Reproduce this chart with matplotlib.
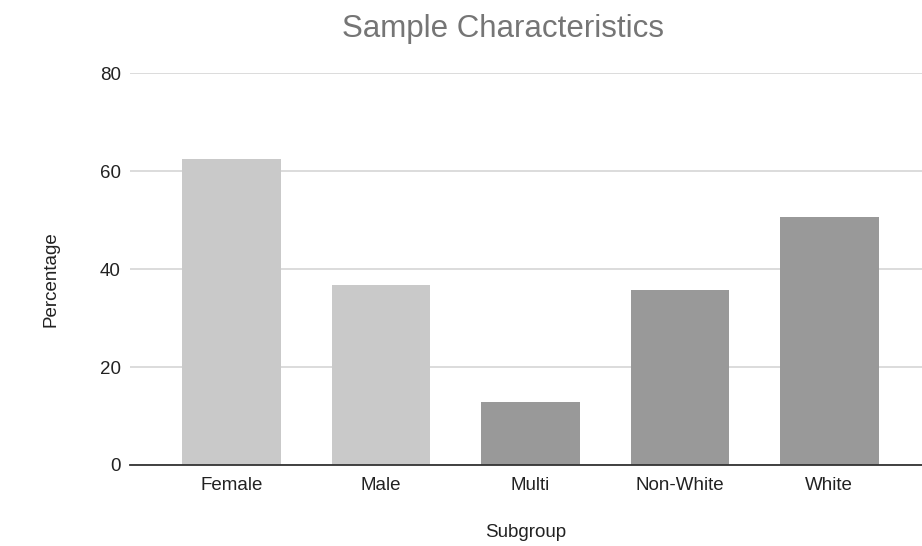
import matplotlib.pyplot as plt

plt.rcParams['font.family'] = ['Liberation Sans', 'DejaVu Sans']

# Percentages by subgroup
subgroups = ['Female', 'Male', 'Multi', 'Non-White', 'White']
percent = [62.6, 36.7, 12.8, 35.8, 50.6]
bar_colors = ['#c9c9c9', '#c9c9c9', '#999999', '#999999', '#999999']
yticks = [0, 20, 40, 60, 80]

fig = plt.figure(figsize=(9.22, 5.46), dpi=100)
ax = fig.add_axes([0.141, 0.1484, 0.859, 0.717])

x = list(range(len(subgroups)))
ax.bar(x, percent, width=0.66, color=bar_colors, zorder=3)

ax.set_xlim(-0.68, 4.62)
ax.set_ylim(0, 80)
ax.set_yticks(yticks)
ax.set_xticks(x)
ax.set_xticklabels(subgroups)

ax.grid(axis='y', color='#d6d6d6', linewidth=1.2, zorder=0)
for side in ['top', 'right', 'left']:
    ax.spines[side].set_visible(False)
ax.spines['bottom'].set_color('#333333')
ax.spines['bottom'].set_linewidth(1.3)
ax.spines['bottom'].set_zorder(4)
ax.tick_params(axis='both', length=0, labelsize=13.5, colors='#222222')
ax.tick_params(axis='y', pad=6.5)
ax.tick_params(axis='x', pad=9)

ax.set_xlabel('Subgroup', fontsize=13.5, color='#222222', labelpad=21)
ax.set_ylabel('Percentage', fontsize=13.5, color='#222222', labelpad=29,
              y=0.474)
fig.text(0.5456, 0.9320, 'Sample Characteristics', ha='center',
         va='baseline', fontsize=22.5, color='#757575')

fig.savefig('out.png', dpi=100)
